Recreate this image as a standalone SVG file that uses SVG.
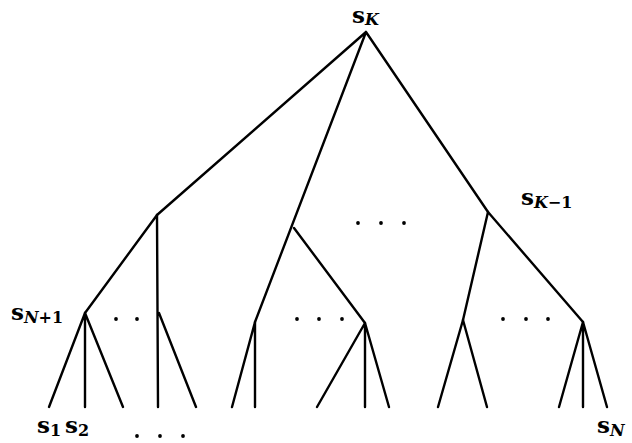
<svg xmlns="http://www.w3.org/2000/svg" width="632" height="443" viewBox="0 0 632 443">
<style>
.e{stroke:#000;stroke-width:2.4;fill:none;stroke-linecap:round;stroke-linejoin:round}
.s{font-family:"DejaVu Serif","Liberation Serif",serif;font-weight:bold;font-size:23px;fill:#000}
.sub{font-size:16px}
.it{font-style:italic}
.d{fill:#000}
</style>
<rect width="632" height="443" fill="#fff"/>
<g id="connectors">
<path class="e" d="M366 32 L157 215 M366 32 L255 322 M366 32 L488 212"/>
<path class="e" d="M157 215 L85 313 M157 215 L158 407 M159 313 L196 407"/>
<path class="e" d="M294 228 L365 323"/>
<path class="e" d="M488 212 L463 320 M488 212 L583 322"/>
<path class="e" d="M85 313 L49 407 M85 313 L85 407 M85 313 L123 407"/>
<path class="e" d="M255 322 L232 407 M255 322 L255 407"/>
<path class="e" d="M365 323 L317 407 M365 323 L365 407 M365 323 L389 407"/>
<path class="e" d="M463 320 L438 407 M463 320 L487 407"/>
<path class="e" d="M583 322 L559 407 M583 322 L583 407 M583 322 L607 407"/>
</g>
<g id="sK"><text class="s" x="352" y="23">s<tspan class="sub it" dy="2">K</tspan></text></g>
<g id="sK-1"><text class="s" x="521" y="205">s<tspan class="sub" dy="3"><tspan class="it">K</tspan>−1</tspan></text></g>
<g id="sN+1"><text class="s" x="11" y="320">s<tspan class="sub" dy="3"><tspan class="it">N</tspan>+1</tspan></text></g>
<g id="s1"><text class="s" x="37" y="433">s<tspan class="sub" dy="3">1</tspan></text></g>
<g id="s2"><text class="s" x="65" y="433">s<tspan class="sub" dy="3">2</tspan></text></g>
<g id="sN"><text class="s" x="597" y="433">s<tspan class="sub it" dy="3">N</tspan></text></g>
<g id="dots">
<circle class="d" cx="358" cy="223" r="1.9"/><circle class="d" cx="381" cy="223" r="1.9"/><circle class="d" cx="404" cy="223" r="1.9"/>
<circle class="d" cx="116" cy="319" r="1.9"/><circle class="d" cx="137" cy="319" r="1.9"/>
<circle class="d" cx="297" cy="319" r="1.9"/><circle class="d" cx="319" cy="319" r="1.9"/><circle class="d" cx="342" cy="319" r="1.9"/>
<circle class="d" cx="503" cy="319" r="1.9"/><circle class="d" cx="526" cy="319" r="1.9"/><circle class="d" cx="548" cy="319" r="1.9"/>
<circle class="d" cx="137" cy="436" r="1.9"/><circle class="d" cx="160" cy="436" r="1.9"/><circle class="d" cx="183" cy="436" r="1.9"/>
</g>
</svg>
